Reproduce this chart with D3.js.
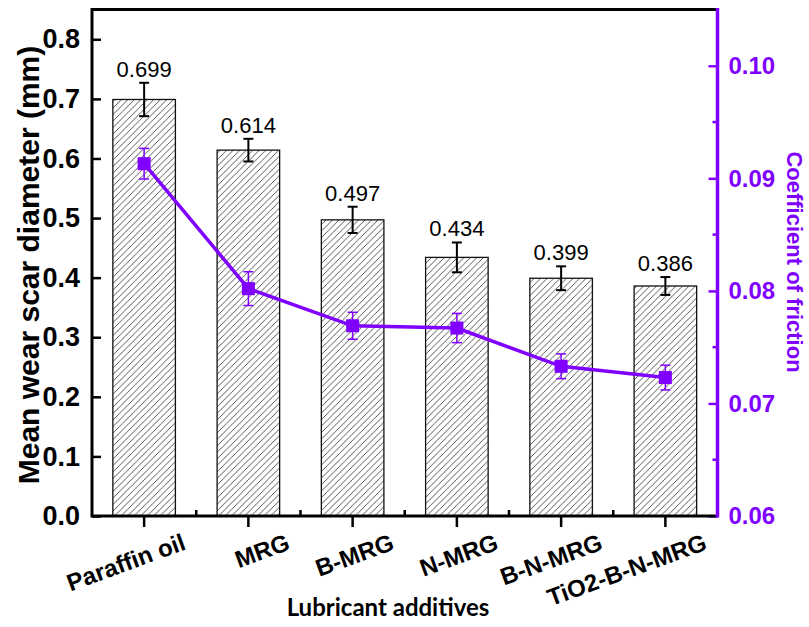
<!DOCTYPE html>
<html>
<head>
<meta charset="utf-8">
<script src="https://cdnjs.cloudflare.com/ajax/libs/d3/7.8.5/d3.min.js"></script>
<style>
  body { margin: 0; background: #fff; }
  svg text { font-family: Arial, "Liberation Sans", sans-serif; }
</style>
</head>
<body>
<svg id="chart" width="809" height="627"></svg>
<script>
// data
var categories = ["Paraffin oil", "MRG", "B-MRG", "N-MRG", "B-N-MRG", "TiO2-B-N-MRG"];
var scarValues = [0.699, 0.614, 0.497, 0.434, 0.399, 0.386];
var scarErrors = [0.028, 0.019, 0.022, 0.025, 0.020, 0.015];
var cofValues = [0.0913, 0.0802, 0.0769, 0.0767, 0.0733, 0.0723];
var cofErrors = [0.00136, 0.0015, 0.0012, 0.0013, 0.0011, 0.0011];
var leftTicks = [0.0, 0.1, 0.2, 0.3, 0.4, 0.5, 0.6, 0.7, 0.8];
var rightTicks = [0.06, 0.07, 0.08, 0.09, 0.10];
var rightMinorTicks = [0.065, 0.075, 0.085, 0.095];

var purple = "#8000ff";
var plot = { left: 92, right: 717.5, top: 9.5, bottom: 516 };

var svg = d3.select("#chart");

var x = d3.scaleBand()
    .domain(categories)
    .range([plot.left, plot.right])
    .paddingInner(0.4)
    .paddingOuter(0.2);

var yLeft = d3.scaleLinear().domain([0, 0.85]).range([plot.bottom, plot.top]);
var yRight = d3.scaleLinear().domain([0.06, 0.105]).range([plot.bottom, plot.top]);

// hatch pattern for the bars
var pattern = svg.append("defs").append("pattern")
    .attr("id", "hatch")
    .attr("patternUnits", "userSpaceOnUse")
    .attr("width", 6.5)
    .attr("height", 6.5);
pattern.append("rect").attr("width", 6.5).attr("height", 6.5).attr("fill", "#fff");
pattern.append("path")
    .attr("d", "M-1,1 l2,-2 M0,6.5 l6.5,-6.5 M5.5,7.5 l2,-2")
    .attr("stroke", "#444")
    .attr("stroke-width", 0.9);

var rows = categories.map(function (c, i) {
    return { cat: c, scar: scarValues[i], scarErr: scarErrors[i], cof: cofValues[i], cofErr: cofErrors[i] };
});

// bars
svg.append("g").selectAll("rect")
    .data(rows)
    .enter().append("rect")
    .attr("x", function (d) { return x(d.cat); })
    .attr("y", function (d) { return yLeft(d.scar); })
    .attr("width", x.bandwidth())
    .attr("height", function (d) { return yLeft(0) - yLeft(d.scar); })
    .attr("fill", "url(#hatch)")
    .attr("stroke", "#111")
    .attr("stroke-width", 1.3);

// black error bars
var errG = svg.append("g").attr("stroke", "#000").attr("stroke-width", 2);
rows.forEach(function (d) {
    var cx = x(d.cat) + x.bandwidth() / 2;
    var y1 = yLeft(d.scar + d.scarErr), y2 = yLeft(d.scar - d.scarErr);
    errG.append("line").attr("x1", cx).attr("x2", cx).attr("y1", y1).attr("y2", y2);
    errG.append("line").attr("x1", cx - 5).attr("x2", cx + 5).attr("y1", y1).attr("y2", y1);
    errG.append("line").attr("x1", cx - 5).attr("x2", cx + 5).attr("y1", y2).attr("y2", y2);
});

// value labels
svg.append("g").selectAll("text")
    .data(rows)
    .enter().append("text")
    .attr("x", function (d) { return x(d.cat) + x.bandwidth() / 2; })
    .attr("y", function (d) { return yLeft(d.scar + d.scarErr) - 6; })
    .attr("text-anchor", "middle")
    .style("font-size", "22px")
    .attr("fill", "#000")
    .text(function (d) { return d3.format(".3f")(d.scar); });

// friction line
var line = d3.line()
    .x(function (d) { return x(d.cat) + x.bandwidth() / 2; })
    .y(function (d) { return yRight(d.cof); });

svg.append("path")
    .datum(rows)
    .attr("d", line)
    .attr("fill", "none")
    .attr("stroke", purple)
    .attr("stroke-width", 3.5);

var perrG = svg.append("g").attr("stroke", purple).attr("stroke-width", 1.5);
rows.forEach(function (d) {
    var cx = x(d.cat) + x.bandwidth() / 2;
    var y1 = yRight(d.cof + d.cofErr), y2 = yRight(d.cof - d.cofErr);
    perrG.append("line").attr("x1", cx).attr("x2", cx).attr("y1", y1).attr("y2", y2);
    perrG.append("line").attr("x1", cx - 5).attr("x2", cx + 5).attr("y1", y1).attr("y2", y1);
    perrG.append("line").attr("x1", cx - 5).attr("x2", cx + 5).attr("y1", y2).attr("y2", y2);
});

svg.append("g").selectAll("rect")
    .data(rows)
    .enter().append("rect")
    .attr("x", function (d) { return x(d.cat) + x.bandwidth() / 2 - 6.5; })
    .attr("y", function (d) { return yRight(d.cof) - 6.5; })
    .attr("width", 13)
    .attr("height", 13)
    .attr("fill", purple);

// left axis
var leftAxis = svg.append("g")
    .attr("transform", "translate(" + plot.left + ",0)")
    .call(d3.axisLeft(yLeft).tickValues(leftTicks).tickSize(-9).tickPadding(12).tickFormat(d3.format(".1f")));
leftAxis.select(".domain").remove();
leftAxis.selectAll(".tick line").attr("stroke", "#000").attr("stroke-width", 2.5);
leftAxis.selectAll("text").style("font-size", "27px").style("font-weight", "bold").attr("fill", "#000");

// right axis
var rightAxis = svg.append("g")
    .attr("transform", "translate(" + plot.right + ",0)")
    .call(d3.axisRight(yRight).tickValues(rightTicks).tickSize(-9).tickPadding(11).tickFormat(d3.format(".2f")));
rightAxis.select(".domain").remove();
rightAxis.selectAll(".tick line").attr("stroke", purple).attr("stroke-width", 2.5);
rightAxis.selectAll("text").style("font-size", "24px").style("font-weight", "bold").attr("fill", purple);

svg.append("g").selectAll("line")
    .data(rightMinorTicks)
    .enter().append("line")
    .attr("x1", plot.right - 5).attr("x2", plot.right)
    .attr("y1", function (d) { return yRight(d); })
    .attr("y2", function (d) { return yRight(d); })
    .attr("stroke", purple).attr("stroke-width", 2.5);

// bottom axis
var bottomAxis = svg.append("g")
    .attr("transform", "translate(0," + plot.bottom + ")")
    .call(d3.axisBottom(x).tickSize(11).tickFormat(""));
bottomAxis.select(".domain").remove();
bottomAxis.selectAll(".tick line").attr("stroke", "#000").attr("stroke-width", 2.5);

svg.append("g").selectAll("line")
    .data(categories.slice(1))
    .enter().append("line")
    .attr("x1", function (d) { return x(d) - x.step() * x.paddingInner() / 2; })
    .attr("x2", function (d) { return x(d) - x.step() * x.paddingInner() / 2; })
    .attr("y1", plot.bottom - 6).attr("y2", plot.bottom)
    .attr("stroke", "#000").attr("stroke-width", 2.5);

svg.append("g").selectAll("text")
    .data(categories)
    .enter().append("text")
    .attr("transform", function (d) {
        return "translate(" + (x(d) + x.bandwidth() / 2 + 43) + ",549) rotate(-20)";
    })
    .attr("text-anchor", "end")
    .style("font-size", "24px")
    .style("font-weight", "bold")
    .attr("fill", "#000")
    .text(function (d) { return d; });

// frame
svg.append("path")
    .attr("d", "M" + plot.right + "," + plot.top + "H" + plot.left + "V" + plot.bottom + "H" + plot.right)
    .attr("fill", "none")
    .attr("stroke", "#000")
    .attr("stroke-width", 3);
svg.append("line")
    .attr("x1", plot.right).attr("x2", plot.right)
    .attr("y1", plot.top - 1.5).attr("y2", plot.bottom + 1.5)
    .attr("stroke", purple)
    .attr("stroke-width", 3.5);

// titles
svg.append("text")
    .attr("transform", "translate(28,265) rotate(-90)")
    .attr("dy", "0.35em")
    .attr("text-anchor", "middle")
    .style("font-size", "30px")
    .style("font-weight", "bold")
    .attr("fill", "#000")
    .text("Mean wear scar diameter (mm)");

svg.append("text")
    .attr("transform", "translate(795,262) rotate(90)")
    .attr("dy", "0.35em")
    .attr("text-anchor", "middle")
    .style("font-size", "22px")
    .style("font-weight", "bold")
    .attr("fill", purple)
    .text("Coefficient of friction");

svg.append("text")
    .attr("x", 388)
    .attr("y", 616)
    .attr("text-anchor", "middle")
    .style("font-family", "Lato, 'Open Sans', sans-serif")
    .style("font-size", "24px")
    .style("font-weight", "bold")
    .attr("fill", "#000")
    .text("Lubricant additives");
</script>
</body>
</html>
